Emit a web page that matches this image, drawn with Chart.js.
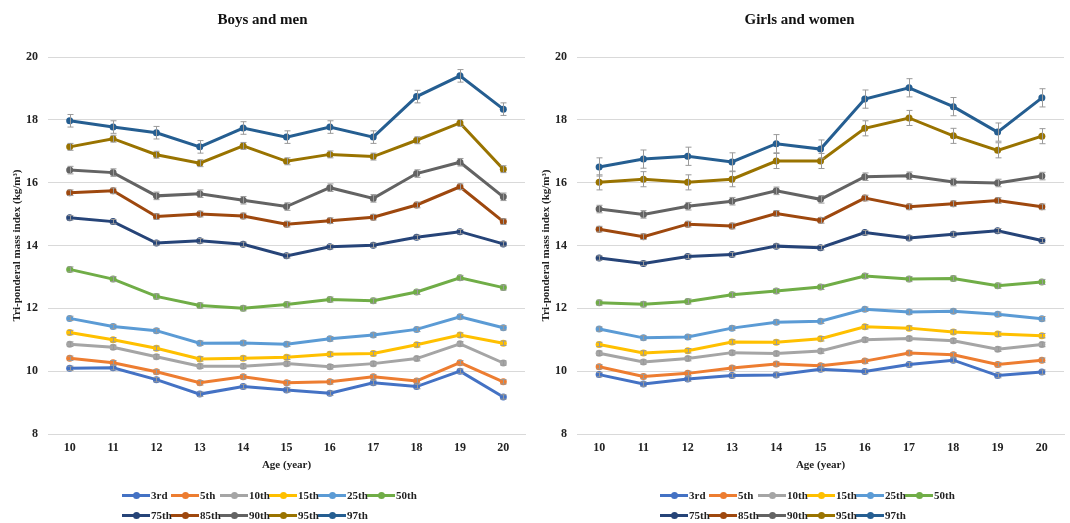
<!DOCTYPE html>
<html>
<head>
<meta charset="utf-8">
<script src="https://cdn.jsdelivr.net/npm/chart.js@4.4.1/dist/chart.umd.min.js"></script>
<style>
  body { margin: 0; background: #fff; width: 1070px; height: 523px; overflow: hidden; font-family: 'Liberation Serif', 'Times New Roman', serif; }
  .panel { position: absolute; top: 0; width: 535px; height: 523px; }
  .legend { position: absolute; top: 485px; display: grid; grid-template-columns: repeat(6, 49px); grid-auto-rows: 20px; font-weight: bold; font-size: 11px; color: #222; }
  .item { display: flex; align-items: center; white-space: nowrap; }
  .sw { position: relative; width: 28px; height: 3px; margin-right: 1px; flex: none; }
  .dot { position: absolute; left: 10.5px; top: -2px; width: 7px; height: 7px; border-radius: 50%; }
</style>
</head>
<body>
<div class="panel" style="left:0"><canvas id="chartBoys"></canvas></div>
<div class="panel" style="left:535px"><canvas id="chartGirls"></canvas></div>
<div class="legend" id="legendBoys" style="left:122px"></div>
<div class="legend" id="legendGirls" style="left:660px"></div>
<script>
// --- data ---
const ages = ['10', '11', '12', '13', '14', '15', '16', '17', '18', '19', '20'];
const percentiles = ['3rd', '5th', '10th', '15th', '25th', '50th', '75th', '85th', '90th', '95th', '97th'];
const yTicks = [8, 10, 12, 14, 16, 18, 20];

// Boys and men
const boysP3  = [10.09, 10.11, 9.73, 9.27, 9.51, 9.40, 9.30, 9.63, 9.51, 10.00, 9.18];
const boysP5  = [10.41, 10.27, 9.98, 9.63, 9.82, 9.63, 9.66, 9.82, 9.69, 10.27, 9.66];
const boysP10 = [10.86, 10.76, 10.46, 10.16, 10.16, 10.24, 10.14, 10.24, 10.40, 10.87, 10.26];
const boysP15 = [11.23, 11.00, 10.73, 10.39, 10.41, 10.44, 10.54, 10.56, 10.84, 11.15, 10.89];
const boysP25 = [11.68, 11.42, 11.29, 10.89, 10.90, 10.86, 11.03, 11.15, 11.33, 11.73, 11.38];
const boysP50 = [13.24, 12.93, 12.38, 12.09, 12.00, 12.12, 12.28, 12.24, 12.52, 12.97, 12.66];
const boysP75 = [14.88, 14.76, 14.08, 14.15, 14.04, 13.67, 13.96, 14.01, 14.26, 14.44, 14.05];
const boysP85 = [15.68, 15.74, 14.92, 15.00, 14.94, 14.68, 14.79, 14.90, 15.29, 15.87, 14.76];
const boysP90 = [16.40, 16.32, 15.58, 15.65, 15.44, 15.24, 15.84, 15.50, 16.29, 16.65, 15.55];
const boysP95 = [17.14, 17.40, 16.89, 16.62, 17.17, 16.68, 16.90, 16.83, 17.35, 17.90, 16.43];
const boysP97 = [17.97, 17.77, 17.59, 17.14, 17.74, 17.45, 17.77, 17.45, 18.74, 19.40, 18.34];
// half-width of the error bars, one per percentile
const boysErr = [0.07, 0.07, 0.07, 0.07, 0.07, 0.08, 0.07, 0.09, 0.12, 0.11, 0.20];

// Girls and women
const girlsP3  = [9.89, 9.59, 9.75, 9.86, 9.88, 10.06, 9.99, 10.21, 10.35, 9.86, 9.97];
const girlsP5  = [10.14, 9.83, 9.93, 10.10, 10.23, 10.17, 10.32, 10.58, 10.52, 10.21, 10.35];
const girlsP10 = [10.57, 10.29, 10.40, 10.59, 10.56, 10.64, 11.00, 11.04, 10.97, 10.70, 10.85];
const girlsP15 = [10.85, 10.58, 10.65, 10.93, 10.92, 11.03, 11.41, 11.37, 11.25, 11.18, 11.13];
const girlsP25 = [11.34, 11.06, 11.09, 11.37, 11.56, 11.59, 11.97, 11.88, 11.91, 11.81, 11.67];
const girlsP50 = [12.18, 12.13, 12.22, 12.43, 12.55, 12.68, 13.03, 12.93, 12.95, 12.72, 12.84];
const girlsP75 = [13.60, 13.43, 13.65, 13.71, 13.98, 13.93, 14.41, 14.24, 14.36, 14.47, 14.16];
const girlsP85 = [14.52, 14.28, 14.68, 14.62, 15.02, 14.80, 15.51, 15.23, 15.33, 15.43, 15.23];
const girlsP90 = [15.16, 14.99, 15.25, 15.41, 15.74, 15.47, 16.19, 16.22, 16.02, 15.99, 16.21];
const girlsP95 = [16.01, 16.11, 16.01, 16.11, 16.69, 16.69, 17.73, 18.06, 17.49, 17.03, 17.48];
const girlsP97 = [16.50, 16.75, 16.84, 16.66, 17.24, 17.07, 18.66, 19.02, 18.42, 17.61, 18.70];
const girlsErr = [0.07, 0.07, 0.07, 0.07, 0.07, 0.08, 0.07, 0.09, 0.12, 0.24, 0.29];

// Office palette
const colores = ['#4472C4', '#ED7D31', '#A5A5A5', '#FFC000', '#5B9BD5', '#70AD47',
                 '#264478', '#9E480E', '#636363', '#997300', '#255E91'];

const fontFamily = "'Liberation Serif', 'Times New Roman', serif";
const colorTexto = '#222';
const colorGrid = '#d9d9d9';

Chart.defaults.font.family = fontFamily;
Chart.defaults.font.weight = 'bold';
Chart.defaults.color = colorTexto;

// error bars drawn from each point's own scale position
const errorBars = {
    id: 'errorBars',
    afterDatasetsDraw(chart) {
        const ctx = chart.ctx;
        const yScale = chart.scales.y;
        ctx.save();
        ctx.strokeStyle = '#9a9a9a';
        ctx.lineWidth = 1;
        chart.data.datasets.forEach((ds, i) => {
            const meta = chart.getDatasetMeta(i);
            meta.data.forEach((pt, j) => {
                const v = ds.data[j];
                const x = Math.round(pt.x) + 0.5;
                const top = yScale.getPixelForValue(v + ds.errorBar);
                const bot = yScale.getPixelForValue(v - ds.errorBar);
                ctx.beginPath();
                ctx.moveTo(x, top); ctx.lineTo(x, bot);
                ctx.moveTo(x - 3, top); ctx.lineTo(x + 3, top);
                ctx.moveTo(x - 3, bot); ctx.lineTo(x + 3, bot);
                ctx.stroke();
            });
        });
        ctx.restore();
    }
};

function crearGrafico(id, titulo, series, errores, cfg) {
    const datasets = series.map((vals, k) => ({
        label: percentiles[k],
        data: vals,
        errorBar: errores[k],
        borderColor: colores[k],
        backgroundColor: colores[k],
        borderWidth: 3,
        pointRadius: 3.5,
        pointHoverRadius: 3.5,
        pointBorderWidth: 0,
        tension: 0
    }));

    return new Chart(document.getElementById(id), {
        type: 'line',
        data: { labels: ages, datasets: datasets },
        plugins: [errorBars],
        options: {
            responsive: true,
            maintainAspectRatio: false,
            animation: false,
            layout: { padding: { left: 0, right: cfg.padRight, top: 0, bottom: 49 } },
            plugins: {
                legend: { display: false },
                tooltip: { enabled: false },
                title: {
                    display: true,
                    text: titulo,
                    color: '#111',
                    font: { size: 15, weight: 'bold' },
                    padding: { top: 11, bottom: 28 }
                }
            },
            scales: {
                x: {
                    offset: true,
                    grid: { display: false, drawTicks: false },
                    border: { display: true, color: colorGrid },
                    ticks: { padding: 7, font: { size: 12, weight: 'bold' }, color: colorTexto },
                    title: {
                        display: true,
                        text: 'Age (year)',
                        font: { size: 11, weight: 'bold' },
                        color: colorTexto,
                        padding: { top: 0, bottom: 2 }
                    },
                    afterFit: (axis) => { axis.height = 40; }
                },
                y: {
                    min: 8,
                    max: 20,
                    afterBuildTicks: (axis) => { axis.ticks = yTicks.map(v => ({ value: v })); },
                    grid: { color: colorGrid, drawTicks: false },
                    border: { display: false },
                    ticks: { padding: 10, font: { size: 12, weight: 'bold' }, color: colorTexto },
                    title: {
                        display: true,
                        text: 'Tri-ponderal mass index (kg/m³)',
                        font: { size: 11, weight: 'bold' },
                        color: colorTexto,
                        padding: { top: cfg.titlePad, bottom: 0 }
                    },
                    afterFit: (axis) => { axis.width = cfg.yWidth; }
                }
            }
        }
    });
}

function crearLeyenda(id, chart) {
    const box = document.getElementById(id);
    chart.data.datasets.forEach(ds => {
        const item = document.createElement('div');
        item.className = 'item';
        const sw = document.createElement('span');
        sw.className = 'sw';
        sw.style.background = ds.borderColor;
        const dot = document.createElement('span');
        dot.className = 'dot';
        dot.style.background = ds.borderColor;
        sw.appendChild(dot);
        const txt = document.createElement('span');
        txt.textContent = ds.label;
        item.appendChild(sw);
        item.appendChild(txt);
        box.appendChild(item);
    });
}

const chartBoys = crearGrafico('chartBoys', 'Boys and men',
    [boysP3, boysP5, boysP10, boysP15, boysP25, boysP50, boysP75, boysP85, boysP90, boysP95, boysP97],
    boysErr, { yWidth: 48, padRight: 10, titlePad: 11 });

const chartGirls = crearGrafico('chartGirls', 'Girls and women',
    [girlsP3, girlsP5, girlsP10, girlsP15, girlsP25, girlsP50, girlsP75, girlsP85, girlsP90, girlsP95, girlsP97],
    girlsErr, { yWidth: 42, padRight: 6, titlePad: 5 });

crearLeyenda('legendBoys', chartBoys);
crearLeyenda('legendGirls', chartGirls);
</script>
</body>
</html>
